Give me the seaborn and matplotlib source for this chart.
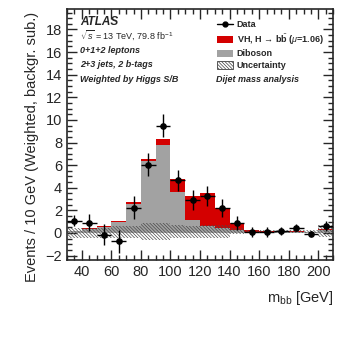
import numpy as np
import pandas as pd
import matplotlib
matplotlib.use("Agg")
import matplotlib.pyplot as plt
from matplotlib.patches import Patch
from matplotlib.lines import Line2D
from matplotlib.ticker import MultipleLocator
import seaborn as sns

# ---- data ----
bin_edges = list(range(30, 211, 10))
diboson = [0.15, 0.35, 0.5, 0.95, 2.6, 6.35, 7.8, 3.6, 1.15, 0.6, 0.4, 0.3, 0.1, 0.08, 0.08, 0.08, 0.05, 0.3]
vh = [0.05, 0.08, 0.1, 0.08, 0.17, 0.22, 0.5, 1.15, 2.1, 2.9, 1.85, 0.6, 0.2, 0.1, 0.08, 0.06, 0.05, 0.05]
data_y = [1.1, 0.9, -0.15, -0.75, 2.25, 6.05, 9.5, 4.65, 2.9, 3.25, 2.2, 0.86, 0.1, 0.12, 0.2, 0.45, -0.05, 0.62]
data_err = [0.5, 0.75, 0.95, 1.0, 1.0, 1.0, 1.05, 0.9, 0.88, 0.9, 0.8, 0.6, 0.45, 0.45, 0.35, 0.3, 0.2, 0.42]
unc_up = [0.47, 0.47, 0.47, 0.62, 0.62, 0.86, 0.86, 0.7, 0.65, 0.7, 0.7, 0.41, 0.27, 0.27, 0.27, 0.27, 0.27, 0.7]
unc_dn = [-0.42, -0.42, -0.42, -0.47, -0.47, -0.62, -0.62, -0.47, -0.42, -0.42, -0.42, -0.12, -0.03, -0.03, -0.03, -0.03, -0.03, -0.4]

edges = np.array(bin_edges, dtype=float)
centers = 0.5 * (edges[:-1] + edges[1:])
width = np.diff(edges)
total = np.array(diboson) + np.array(vh)

df = pd.DataFrame({"mbb": centers, "diboson": diboson, "total": total})

sns.set_style("ticks")
plt.rcParams["font.family"] = ["Liberation Sans", "DejaVu Sans"]
plt.rcParams["mathtext.fontset"] = "custom"
plt.rcParams["mathtext.rm"] = "Liberation Sans"
plt.rcParams["mathtext.it"] = "Liberation Sans:italic"
plt.rcParams["mathtext.bf"] = "Liberation Sans:bold"
plt.rcParams["hatch.linewidth"] = 0.5

RED = "#d40000"
GREY = "#a2a2a2"
HATCH = "\\\\\\\\\\\\\\\\\\\\"

fig = plt.figure(figsize=(3.47, 3.51), dpi=100)
ax = fig.add_axes([0.193, 0.259, 0.767, 0.715])

sns.histplot(data=df, x="mbb", weights="total", bins=list(bin_edges), element="bars",
             color=RED, alpha=1, linewidth=0, ax=ax)
sns.histplot(data=df, x="mbb", weights="diboson", bins=list(bin_edges), element="bars",
             color=GREY, alpha=1, linewidth=0, ax=ax)

# uncertainty band
ax.bar(centers, np.array(unc_up) - np.array(unc_dn), bottom=unc_dn, width=width,
       fill=False, hatch=HATCH, edgecolor="#4a4a4a", linewidth=0, zorder=3)

# data
ax.errorbar(centers, data_y, yerr=data_err, xerr=width / 2, fmt="o", color="black",
            markersize=3.8, elinewidth=1.0, capsize=0, zorder=5)

ax.set_xlim(30, 210)
ax.set_ylim(-2.4, 19.8)
ax.xaxis.set_major_locator(MultipleLocator(20))
ax.xaxis.set_minor_locator(MultipleLocator(5))
ax.yaxis.set_major_locator(MultipleLocator(2))
ax.yaxis.set_minor_locator(MultipleLocator(0.5))
ax.tick_params(which="both", direction="in", top=True, right=True, width=1.0, labelsize=10.5)
ax.tick_params(which="major", length=7)
ax.tick_params(which="minor", length=3.5)
for s in ax.spines.values():
    s.set_linewidth(1.2)

ax.set_ylabel("Events / 10 GeV (Weighted, backgr. sub.)", fontsize=10.5)
ax.yaxis.set_label_coords(-0.105, 0.45)
ax.set_xlabel(r"m$_{\mathregular{bb}}$ [GeV]", fontsize=10.5, loc="right")
ax.xaxis.set_label_coords(1.0, -0.115)

# annotations
tx = 0.049
ax.text(tx, 0.95, "ATLAS", transform=ax.transAxes, fontsize=8.5, fontweight="bold",
        fontstyle="italic", va="center")
ax.text(tx, 0.897, r"$\sqrt{s}$ = 13 TeV, 79.8 fb$^{-1}$", transform=ax.transAxes,
        fontsize=6.5, va="center")
ax.text(tx, 0.837, "0+1+2 leptons", transform=ax.transAxes, fontsize=6.5,
        fontweight="bold", fontstyle="italic", va="center")
ax.text(tx, 0.781, "2+3 jets, 2 b-tags", transform=ax.transAxes, fontsize=6.5,
        fontweight="bold", fontstyle="italic", va="center")
ax.text(tx, 0.721, "Weighted by Higgs S/B", transform=ax.transAxes, fontsize=6.5,
        fontweight="bold", fontstyle="italic", va="center")
ax.text(0.56, 0.721, "Dijet mass analysis", transform=ax.transAxes, fontsize=6.5,
        fontweight="bold", fontstyle="italic", va="center")

handles = [
    Line2D([], [], color="black", marker="o", markersize=3.5, linewidth=1.0),
    Patch(facecolor=RED, edgecolor=RED, linewidth=0),
    Patch(facecolor=GREY, edgecolor=GREY, linewidth=0),
    Patch(facecolor="white", edgecolor="#404040", hatch=HATCH, linewidth=0.6),
]
labels = ["Data", r"VH, H → b$\bar{\mathregular{b}}$ ($\mu$=1.06)", "Diboson", "Uncertainty"]
ax.legend(handles, labels, loc="upper left", bbox_to_anchor=(0.55, 0.97),
          frameon=False, prop={"size": 6.5, "weight": "bold"}, handlelength=1.8,
          handleheight=0.9, labelspacing=0.3, handletextpad=0.4, borderaxespad=0)

fig.savefig("out.png", dpi=100)
